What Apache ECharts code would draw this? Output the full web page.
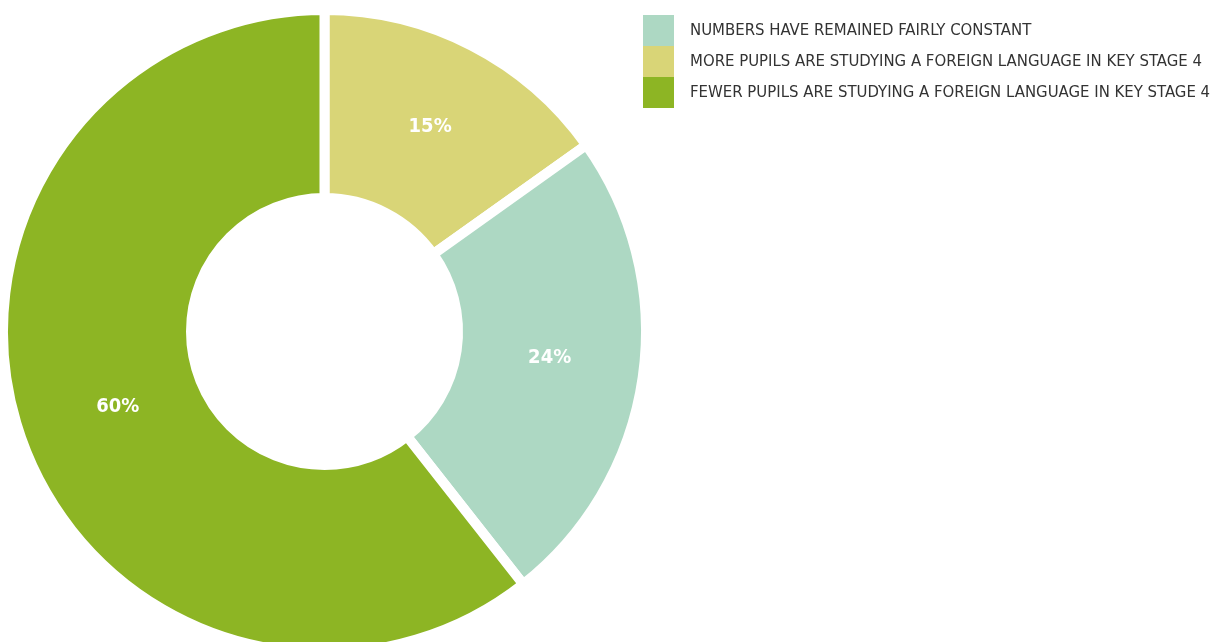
<!DOCTYPE html>
<html>
<head>
<meta charset="utf-8">
<script src="https://cdn.jsdelivr.net/npm/echarts@6/dist/echarts.min.js"></script>
<style>
  html, body { margin: 0; padding: 0; background: #fff; }
  #chart { width: 1216px; height: 642px; }
</style>
</head>
<body>
<div id="chart"></div>
<script>
// data
const categories = [
  "MORE PUPILS ARE STUDYING A FOREIGN LANGUAGE IN KEY STAGE 4",
  "NUMBERS HAVE REMAINED FAIRLY CONSTANT",
  "FEWER PUPILS ARE STUDYING A FOREIGN LANGUAGE IN KEY STAGE 4"
];
const values = [15, 24, 60];
const colors = ["#d9d577", "#add8c3", "#8db524"];
// legend order (as in the picture)
const legendOrder = [
  "NUMBERS HAVE REMAINED FAIRLY CONSTANT",
  "MORE PUPILS ARE STUDYING A FOREIGN LANGUAGE IN KEY STAGE 4",
  "FEWER PUPILS ARE STUDYING A FOREIGN LANGUAGE IN KEY STAGE 4"
];

// small nudges for the % labels
const labelNudge = [[0, 0], [-3, -7], [11, 0]];

const chart = echarts.init(document.getElementById("chart"));
chart.setOption({
  animation: false,
  legend: {
    orient: "vertical",
    left: 643,
    top: 15,
    padding: 0,
    itemWidth: 31,
    itemHeight: 31,
    itemGap: 0,
    icon: "rect",
    itemStyle: { borderWidth: 0 },
    data: legendOrder,
    textStyle: {
      fontFamily: "DejaVu Sans Condensed",
      fontSize: 16.6,
      color: "#333",
      padding: [2, 0, 0, 11]
    }
  },
  series: [{
    type: "pie",
    center: [324.5, 331.5],
    radius: [133.5, 321.5],
    startAngle: 90,
    clockwise: true,
    itemStyle: { borderColor: "#fff", borderWidth: 10 },
    label: {
      show: true,
      position: "inside",
      formatter: "{c}%",
      color: "#fff",
      fontFamily: "DejaVu Sans Condensed",
      fontWeight: "bold",
      fontSize: 20
    },
    labelLine: { show: false },
    emphasis: { disabled: true },
    data: categories.map((name, i) => ({
      name: name,
      value: values[i],
      itemStyle: { color: colors[i] },
      label: { offset: labelNudge[i] }
    }))
  }]
});
</script>
</body>
</html>
